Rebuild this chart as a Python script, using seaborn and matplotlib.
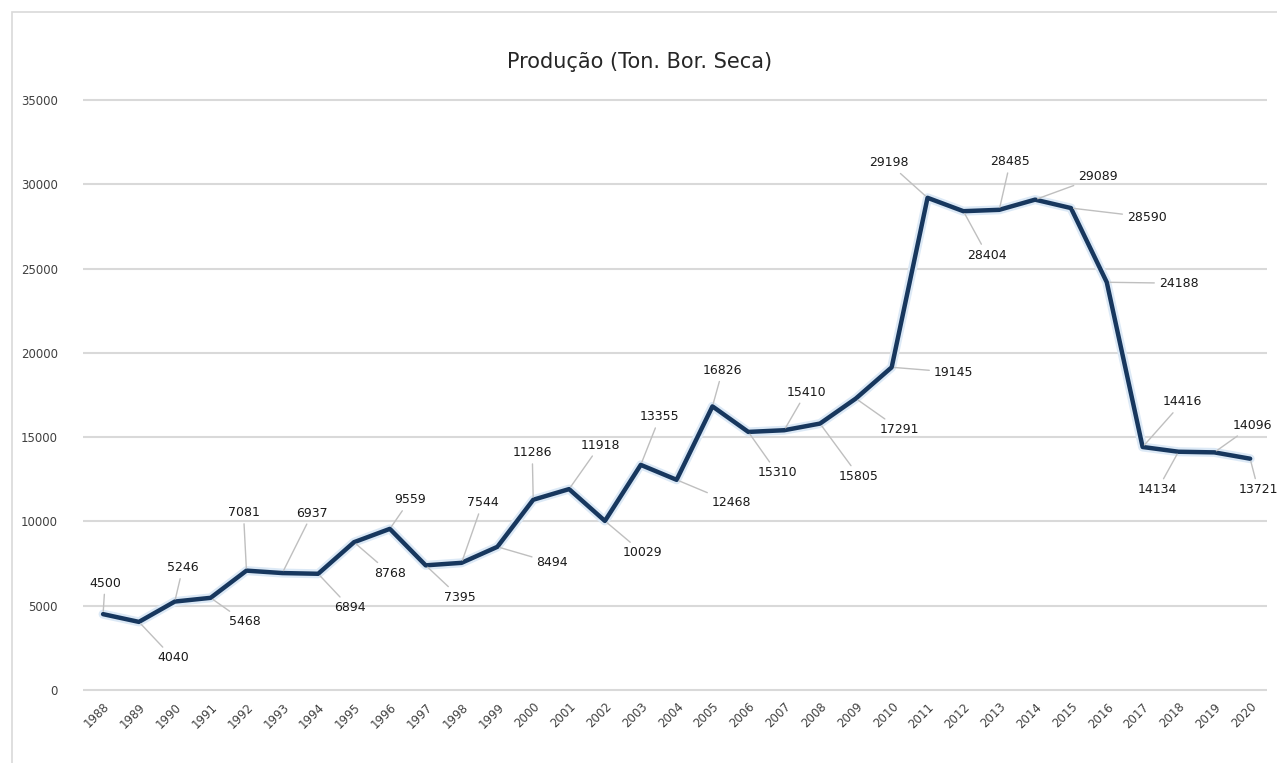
import matplotlib
matplotlib.use("Agg")
import matplotlib.pyplot as plt
import matplotlib.patheffects as pe
from matplotlib.patches import Rectangle
import seaborn as sns
import pandas as pd

years = list(range(1988, 2021))
production = [4500, 4040, 5246, 5468, 7081, 6937, 6894, 8768, 9559, 7395,
              7544, 8494, 11286, 11918, 10029, 13355, 12468, 16826, 15310, 15410,
              15805, 17291, 19145, 29198, 28404, 28485, 29089, 28590, 24188, 14416,
              14134, 14096, 13721]
title = "Produção (Ton. Bor. Seca)"
y_ticks = [0, 5000, 10000, 15000, 20000, 25000, 30000, 35000]

# label offsets (pixels, x right / y down) -- styling only
label_offsets = [(2, -31), (34, 36), (8, -34), (34, 24), (-3, -58), (30, -60),
                 (32, 34), (36, 31), (20, -29), (34, 32), (21, -60), (55, 16),
                 (-1, -47), (31, -44), (38, 32), (19, -48), (55, 23), (10, -36),
                 (29, 41), (22, -38), (39, 53), (44, 31), (62, 5), (-39, -35),
                 (24, 44), (11, -48), (63, -23), (76, 9), (72, 1), (40, -45),
                 (-21, 38), (38, -27), (8, 31)]

df = pd.DataFrame({"Ano": years, "Produção": production})

sns.set_theme(style="white")
plt.rcParams['font.family'] = ['DejaVu Sans']

fig = plt.figure(figsize=(12.77, 7.63), dpi=100)
W, H = 1277, 763
ax_left, ax_right = 83, 1267
ax_top, ax_bottom = 98, 692
ax = fig.add_axes([ax_left / W, 1 - ax_bottom / H, (ax_right - ax_left) / W, (ax_bottom - ax_top) / H])

# outer chart border
fig.patches.append(Rectangle((12 / W, -0.01), 1.0, 1 - 12 / H + 0.01, transform=fig.transFigure,
                             fill=False, edgecolor="#d9d9d9", linewidth=1.2))

sns.lineplot(data=df, x="Ano", y="Produção", ax=ax, color="#17375e", linewidth=3.2,
             path_effects=[pe.Stroke(linewidth=6.5, foreground="#dce9f6"), pe.Normal()])

span = 35000 / 590.0
ax.set_xlim(1987.44, 2020.47)
ax.set_ylim(-2 * span, 35000 + 2 * span)
ax.set_yticks(y_ticks)
ax.set_yticklabels([str(v) for v in y_ticks], fontsize=8.5, color="#404040")
ax.set_xticks(years)
ax.set_xticklabels([str(y) for y in years], fontsize=8.5, color="#404040",
                   rotation=45, ha="right", rotation_mode="anchor")
ax.tick_params(axis="x", pad=6, length=0)
ax.tick_params(axis="y", pad=18, length=0)
ax.grid(axis="y", color="#d9d9d9", linewidth=1.5)
ax.set_axisbelow(True)
for s in ax.spines.values():
    s.set_visible(False)
ax.set_xlabel("")
ax.set_ylabel("")

for yr, val, (dx, dy) in zip(years, production, label_offsets):
    ax.annotate(str(val), xy=(yr, val), xytext=(dx, -dy), textcoords="offset pixels",
                ha="center", va="center", fontsize=9, color="#1a1a1a",
                arrowprops=dict(arrowstyle="-", color="#bfbfbf", lw=1.0, shrinkA=1, shrinkB=2),
                annotation_clip=False)

fig.text(640 / W, 1 - 62 / H, title, ha="center", va="center", fontsize=15, color="#262626")

fig.savefig("out.png", dpi=100)
